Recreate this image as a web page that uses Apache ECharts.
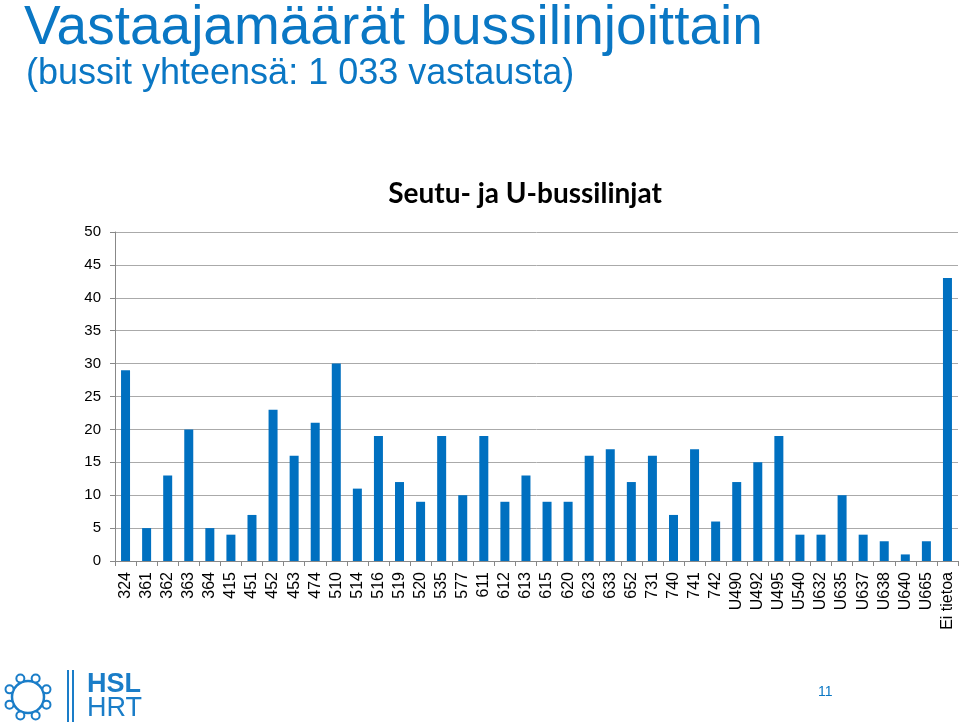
<!DOCTYPE html>
<html><head><meta charset="utf-8">
<script src="https://cdn.jsdelivr.net/npm/echarts@6/dist/echarts.min.js"></script>
<style>html,body{margin:0;padding:0;background:#fff}#c{width:960px;height:726px}</style>
</head><body><div id="c"></div>
<script>
const categories = ['324','361','362','363','364','415','451','452','453','474','510','514','516','519','520','535','577','611','612','613','615','620','623','633','652','731','740','741','742','U490','U492','U495','U540','U632','U635','U637','U638','U640','U665','Ei tietoa'];
const values = [29,5,13,20,5,4,7,23,16,21,30,11,19,12,9,19,10,19,9,13,9,9,16,17,12,16,7,17,6,12,15,19,4,4,10,4,3,1,3,43];
const yTicks = [0,5,10,15,20,25,30,35,40,45,50];

const blue = '#0a77c4';
const logoBlue = '#1a7dc8';
const loops = [];
for (let i = 0; i < 8; i++) {
  const a = i * Math.PI / 4 + Math.PI / 8;
  loops.push({type:'circle', shape:{cx:28 + Math.cos(a)*20, cy:697 + Math.sin(a)*20, r:4},
    style:{fill:'#fff', stroke:logoBlue, lineWidth:2}});
}
const chart = echarts.init(document.getElementById('c'));
chart.setOption({
  animation:false,
  title:[
    {text:'Vastaajamäärät bussilinjoittain', left:19, top:-4,
     textStyle:{fontFamily:'Liberation Sans', fontSize:55, fontWeight:'normal', color:blue}},
    {text:'(bussit yhteensä: 1 033 vastausta)', left:21, top:51,
     textStyle:{fontFamily:'Liberation Sans', fontSize:36, fontWeight:'normal', color:blue}},
    {text:'Seutu- ja U-bussilinjat', left:520, top:175, textAlign:'center',
     textStyle:{fontFamily:'Lato', fontSize:28, fontWeight:'bold', color:'#000'}}
  ],
  grid:{left:115, right:2, top:232, bottom:165, containLabel:false},
  xAxis:{type:'category', data:categories,
    axisLine:{lineStyle:{color:'#888'}},
    axisTick:{show:true, alignWithLabel:false, length:5, lineStyle:{color:'#888'}},
    axisLabel:{rotate:90, interval:0, fontFamily:'Liberation Sans', fontSize:16, color:'#000', margin:11}},
  yAxis:{type:'value', min:0, max:50, interval:5,
    axisLine:{show:true, lineStyle:{color:'#888'}},
    axisTick:{show:true, length:5, lineStyle:{color:'#888'}},
    splitLine:{lineStyle:{color:'#aaa', width:1}},
    axisLabel:{fontFamily:'Liberation Sans', fontSize:15, color:'#000', margin:14,
      formatter:v => yTicks.includes(v) ? String(v) : ''}},
  series:[{type:'bar', data:values, barWidth:9, itemStyle:{color:'#0070c0'}}],
  graphic:[
    {type:'circle', shape:{cx:28, cy:697, r:16}, style:{fill:'none', stroke:logoBlue, lineWidth:2.5}},
    ...loops,
    {type:'rect', shape:{x:67, y:670, width:2, height:52}, style:{fill:logoBlue}},
    {type:'rect', shape:{x:72, y:670, width:2, height:52}, style:{fill:logoBlue}},
    {type:'text', left:87, top:671, style:{text:'HSL', fontFamily:'Liberation Sans', fontWeight:'bold', fontSize:27, fill:logoBlue}},
    {type:'text', left:87, top:695, style:{text:'HRT', fontFamily:'Liberation Sans', fontWeight:'normal', fontSize:27, fill:logoBlue}},
    {type:'text', left:818, top:685, style:{text:'11', fontFamily:'Liberation Sans', fontSize:14, fill:blue}}
  ]
});
</script>
</body></html>
